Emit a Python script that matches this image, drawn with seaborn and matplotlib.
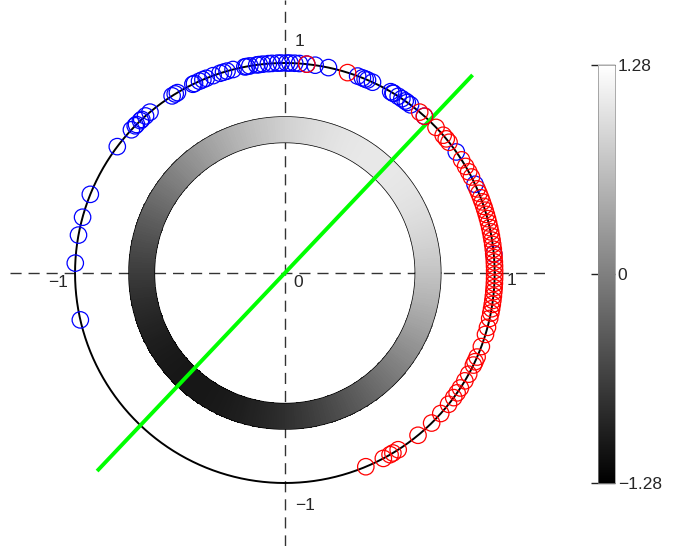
import numpy as np
import matplotlib
matplotlib.use("Agg")
import matplotlib.pyplot as plt
import seaborn as sns

sns.set_style("white")
plt.rcParams['font.family'] = ['Liberation Sans', 'DejaVu Sans']

# angles (degrees) of the points on the unit circle
blue_deg = [192.9, 177.3, 169.6, 164.6, 158.0, 143.0, 137.0, 135.5, 135.0, 133.5,
            133.0, 131.6, 130.0, 122.5, 121.5, 120.8, 116.0, 115.5, 114.0, 113.0,
            112.0, 110.0, 108.0, 107.0, 106.0, 104.3, 101.0, 100.5, 99.6, 97.7,
            97.0, 96.0, 94.5, 93.5, 92.0, 91.0, 89.5, 88.6, 87.3, 86.0,
            84.0, 81.7, 78.0, 69.7, 68.3, 67.5, 66.8, 65.3, 59.7, 59.0,
            58.8, 57.3, 56.1, 55.0, 54.3, 53.2, 48.3, 35.2, 25.0, 5.2]
red_deg = [84.0, 72.6, 50.0, 48.3, 43.9, 41.0, 39.7, 38.5, 32.6, 30.5,
           28.8, 27.2, 23.6, 22.3, 21.0, 19.8, 18.5, 17.4, 16.2, 15.0,
           13.8, 12.5, 11.3, 10.1, 9.0, 7.8, 6.5, 5.3, 4.2, 3.0,
           1.9, 0.7, -0.5, -1.6, -2.8, -4.0, -5.1, -6.3, -7.5, -8.6,
           -9.8, -11.0, -12.5, -15.0, -17.0, -20.5, -23.6, -25.0, -26.0, -28.8,
           -30.9, -33.2, -34.8, -36.4, -38.7, -42.0, -45.6, -50.6, -57.3, -59.0,
           -59.9, -62.0, -67.3]

line_deg = 46.5          # direction of the green line
ring_deg = 50.0          # brightest direction on the ring
ring_amp = 1.05          # amplitude of ring shading
cmax = 1.28              # colour range of the ring / colorbar
cbar_ticks = [-1.28, 0, 1.28]
cbar_labels = ['\u22121.28', '0', '1.28']

fig = plt.figure(figsize=(6.73, 5.46), dpi=100)
ax = fig.add_axes([10 / 673, 0, 535 / 673, 1])
ax.set_xlim(-1.31, 1.24)
ax.set_ylim(-1.30, 1.30)
ax.axis('off')

# dashed axes
ax.axhline(0, color='#333333', lw=1, dashes=(8, 5), zorder=1)
ax.axvline(0, color='#333333', lw=1, dashes=(8, 5), zorder=1)

# shaded ring
t = np.deg2rad(np.linspace(0, 360, 361))
r = np.array([0.62, 0.745])
T, R = np.meshgrid(t, r)
tc = 0.5 * (t[:-1] + t[1:])
C = (ring_amp * np.cos(tc - np.deg2rad(ring_deg)))[None, :]
ax.pcolormesh(R * np.cos(T), R * np.sin(T), C, cmap='gray', vmin=-cmax, vmax=cmax,
              shading='flat', zorder=2)
for rr in r:
    ax.plot(rr * np.cos(t), rr * np.sin(t), color='black', lw=0.5, zorder=3)

# unit circle
sns.lineplot(x=np.cos(t), y=np.sin(t), sort=False, estimator=None, color='black',
             lw=1.4, ax=ax, zorder=3)

# green line
a = np.deg2rad(line_deg)
ax.plot([-1.3 * np.cos(a), 1.3 * np.cos(a)], [-1.3 * np.sin(a), 1.3 * np.sin(a)],
        color='#00ff00', lw=2.8, solid_capstyle='butt', zorder=4)

# points
for degs, col in [(blue_deg, 'blue'), (red_deg, 'red')]:
    th = np.deg2rad(np.array(degs))
    sns.scatterplot(x=np.cos(th), y=np.sin(th), color=col, s=140, linewidth=0.9,
                    ax=ax, zorder=5, legend=False)
    pts = ax.collections[-1]
    pts.set_facecolor('none')
    pts.set_edgecolor(col)

# axis labels
fs = 12.5
ax.text(1.081, -0.035, '1', ha='center', va='center', fontsize=fs)
ax.text(-1.081, -0.043, '\u22121', ha='center', va='center', fontsize=fs)
ax.text(0.062, -0.043, '0', ha='center', va='center', fontsize=fs)
ax.text(0.071, 1.10, '1', ha='center', va='center', fontsize=fs)
ax.text(0.095, -1.105, '\u22121', ha='center', va='center', fontsize=fs)

# colorbar
cax = fig.add_axes([598 / 673, (546 - 483) / 546, 17 / 673, 418 / 546])
sm = matplotlib.cm.ScalarMappable(cmap='gray', norm=plt.Normalize(-cmax, cmax))
cb = fig.colorbar(sm, cax=cax, ticks=cbar_ticks)
cb.ax.set_yticklabels(cbar_labels)
cb.ax.tick_params(direction='in', length=17, width=1, color='#222222',
                  labelsize=fs, pad=2)
cb.outline.set_linewidth(0.5)
cb.outline.set_edgecolor('#888888')

fig.savefig('out.png', dpi=100)
